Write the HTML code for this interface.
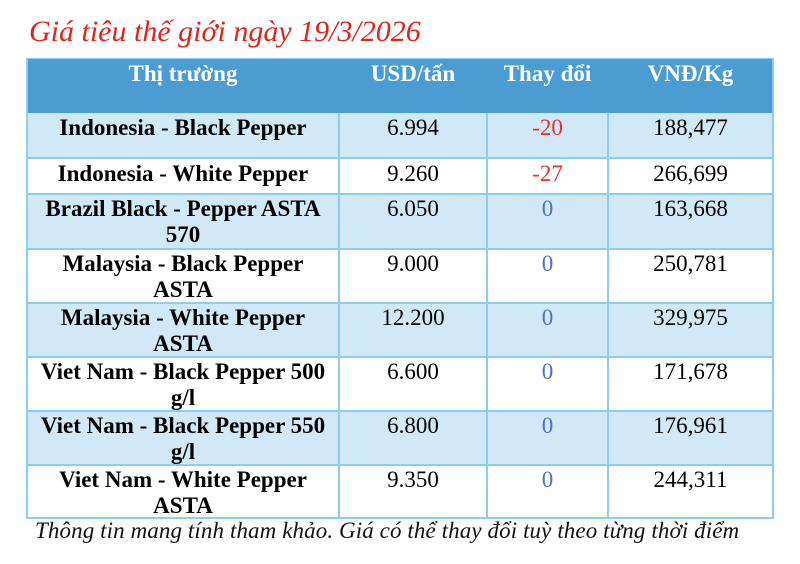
<!DOCTYPE html>
<html>
<head>
<meta charset="utf-8">
<style>
  html,body{margin:0;padding:0;background:#fff;}
  body{width:800px;height:564px;position:relative;overflow:hidden;font-family:"Liberation Serif","Noto Serif CJK SC",serif;}
  .abs{position:absolute;}
  .title{left:29px;top:17px;font-size:30px;line-height:30px;font-style:italic;color:#e2231d;white-space:nowrap;}
  .hdr{left:27px;top:59px;width:746px;height:54px;background:#4b9cd3;}
  .row{position:absolute;left:27px;width:746px;}
  .lb{background:#d1e9f7;}
  .wh{background:#fff;}
  .hl{position:absolute;left:27px;width:747px;height:2px;background:#8fcdf0;}
  .vl{position:absolute;width:2px;background:#8fcdf0;}
  .c{position:absolute;text-align:center;font-size:23px;line-height:26px;white-space:nowrap;color:#000;}
  .b{font-weight:bold;}
  .h{color:#fff;font-weight:bold;}
  .red{color:#e8302a;}
  .blue{color:#4a72c6;}
  .c1{left:27px;width:312px;}
  .c2{left:339px;width:148px;}
  .c3{left:487px;width:121px;}
  .c4{left:608px;width:165px;}
  .foot{left:35px;top:519px;font-size:23px;line-height:24px;font-style:italic;color:#111;white-space:nowrap;letter-spacing:0.1px;}
</style>
</head>
<body>
<div class="abs title">Giá tiêu thế giới ngày 19/3/2026</div>

<div class="abs hdr"></div>
<div class="row lb" style="top:113px;height:45px;"></div>
<div class="row wh" style="top:159px;height:35px;"></div>
<div class="row lb" style="top:194px;height:55px;"></div>
<div class="row wh" style="top:249px;height:54px;"></div>
<div class="row lb" style="top:303px;height:54px;"></div>
<div class="row wh" style="top:357px;height:54px;"></div>
<div class="row lb" style="top:411px;height:54px;"></div>
<div class="row wh" style="top:465px;height:53px;"></div>

<div class="hl" style="top:58px;height:1px;"></div>
<div class="hl" style="top:157px;"></div>
<div class="hl" style="top:193px;"></div>
<div class="hl" style="top:248px;"></div>
<div class="hl" style="top:302px;"></div>
<div class="hl" style="top:356px;"></div>
<div class="hl" style="top:410px;"></div>
<div class="hl" style="top:464px;"></div>
<div class="hl" style="top:517px;"></div>

<div class="vl" style="left:26px;top:58px;height:461px;"></div>
<div class="vl" style="left:772px;top:58px;height:461px;"></div>
<div class="vl" style="left:338px;top:113px;height:406px;"></div>
<div class="vl" style="left:486px;top:113px;height:406px;"></div>
<div class="vl" style="left:607px;top:113px;height:406px;"></div>

<div class="c h c1" style="top:61px;">Thị trường</div>
<div class="c h c2" style="top:61px;">USD/tấn</div>
<div class="c h c3" style="top:61px;">Thay đổi</div>
<div class="c h c4" style="top:61px;">VNĐ/Kg</div>

<div class="c b c1" style="top:115px;">Indonesia - Black Pepper</div>
<div class="c c2" style="top:115px;">6.994</div>
<div class="c red c3" style="top:115px;">-20</div>
<div class="c c4" style="top:115px;">188,477</div>

<div class="c b c1" style="top:161px;">Indonesia - White Pepper</div>
<div class="c c2" style="top:161px;">9.260</div>
<div class="c red c3" style="top:161px;">-27</div>
<div class="c c4" style="top:161px;">266,699</div>

<div class="c b c1" style="top:196px;">Brazil Black - Pepper ASTA<br>570</div>
<div class="c c2" style="top:196px;">6.050</div>
<div class="c blue c3" style="top:196px;">0</div>
<div class="c c4" style="top:196px;">163,668</div>

<div class="c b c1" style="top:251px;">Malaysia - Black Pepper<br>ASTA</div>
<div class="c c2" style="top:251px;">9.000</div>
<div class="c blue c3" style="top:251px;">0</div>
<div class="c c4" style="top:251px;">250,781</div>

<div class="c b c1" style="top:305px;">Malaysia - White Pepper<br>ASTA</div>
<div class="c c2" style="top:305px;">12.200</div>
<div class="c blue c3" style="top:305px;">0</div>
<div class="c c4" style="top:305px;">329,975</div>

<div class="c b c1" style="top:359px;">Viet Nam - Black Pepper 500<br>g/l</div>
<div class="c c2" style="top:359px;">6.600</div>
<div class="c blue c3" style="top:359px;">0</div>
<div class="c c4" style="top:359px;">171,678</div>

<div class="c b c1" style="top:413px;">Viet Nam - Black Pepper 550<br>g/l</div>
<div class="c c2" style="top:413px;">6.800</div>
<div class="c blue c3" style="top:413px;">0</div>
<div class="c c4" style="top:413px;">176,961</div>

<div class="c b c1" style="top:467px;">Viet Nam - White Pepper<br>ASTA</div>
<div class="c c2" style="top:467px;">9.350</div>
<div class="c blue c3" style="top:467px;">0</div>
<div class="c c4" style="top:467px;">244,311</div>

<div class="abs foot">Thông tin mang tính tham khảo. Giá có thể thay đổi tuỳ theo từng thời điểm</div>
</body>
</html>
